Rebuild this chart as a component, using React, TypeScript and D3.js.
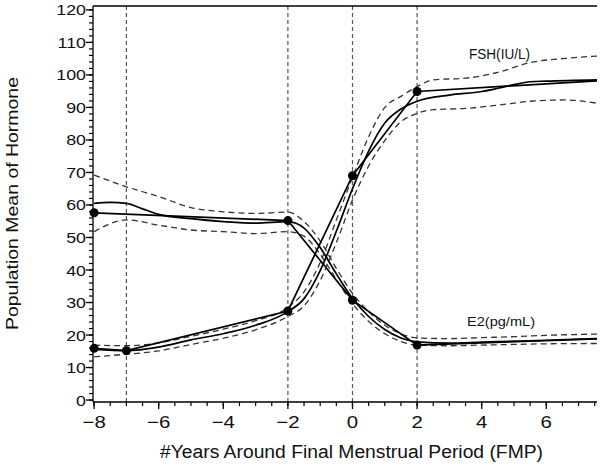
import React from "react";
import * as d3 from "d3";

// ---- data ----
const xTicks = [-8, -6, -4, -2, 0, 2, 4, 6];
const yTicks = [0, 10, 20, 30, 40, 50, 60, 70, 80, 90, 100, 110, 120];
const refLines = [-7, -2, 0, 2];

// FSH (IU/L)
const fshPtsX = [-8, -7, -2, 0, 2];
const fshPtsY = [15.9, 15.2, 27.4, 69.0, 94.9];
const fshLinX = [-8, -7, -2, 0, 2, 7.57];
const fshLinY = [15.9, 15.2, 27.4, 69.0, 94.9, 98.2];
const fshSmX = [-8, -7, -6, -5, -4, -3, -2, -1.5, -1, -0.5, 0, 0.5, 1, 1.5, 2, 3, 4, 4.5, 5, 5.5, 6, 7.57];
const fshSmY = [15.6, 15.2, 16.3, 18.5, 20.4, 23.0, 27.2, 31.2, 39.8, 51.9, 65.0, 76.6, 85.2, 89.5, 91.9, 93.8, 94.9, 95.9, 97.0, 97.9, 98.1, 98.5];
const fshCiX = [-8, -7, -6, -5, -4, -3, -2, -1.5, -1, -0.5, 0, 0.5, 1, 1.5, 2, 2.5, 3.5, 4.5, 5.5, 6.6, 7.57];
const fshUpY = [16.9, 16.7, 17.6, 19.6, 21.8, 24.4, 28.5, 33.3, 42.3, 55.4, 68.5, 81.0, 90.0, 93.4, 96.4, 98.5, 99.0, 100.8, 103.8, 105.1, 105.8];
const fshLoY = [13.3, 14.1, 15.1, 17.1, 19.0, 21.6, 25.7, 29.0, 36.8, 48.4, 61.5, 72.0, 79.8, 85.6, 88.2, 89.3, 89.7, 90.7, 91.9, 92.3, 91.3];

// E2 (pg/mL)
const e2PtsX = [-8, -2, 0, 2];
const e2PtsY = [57.6, 55.2, 30.7, 16.9];
const e2LinX = [-8, -2, 0, 2, 7.57];
const e2LinY = [57.6, 55.2, 30.7, 16.9, 18.8];
const e2SmX = [-8, -7.5, -7, -6.5, -6, -5, -4, -3, -2, -1.5, -1, -0.5, 0, 0.5, 1, 1.5, 2, 3, 4, 5, 6, 7.57];
const e2SmY = [60.5, 60.8, 60.5, 58.8, 57.1, 55.8, 54.9, 54.4, 54.9, 52.9, 46.9, 38.8, 31.2, 25.7, 21.7, 19.1, 17.9, 17.5, 17.8, 18.1, 18.4, 18.9];
const e2CiX = [-8, -7, -6, -5, -4, -3, -2, -1.5, -1, -0.5, 0, 0.5, 1, 1.5, 2, 3, 4, 5, 6, 7.57];
const e2UpY = [69.2, 65.6, 62.6, 59.2, 57.9, 57.4, 57.8, 54.9, 48.9, 40.5, 32.8, 27.2, 23.0, 20.4, 19.1, 18.9, 19.2, 19.5, 19.9, 20.3];
const e2LoY = [51.8, 55.4, 53.8, 52.3, 51.8, 51.2, 51.8, 50.4, 44.8, 37.1, 29.7, 24.2, 20.4, 18.0, 16.9, 16.7, 16.9, 17.1, 17.3, 17.4];

const FONT = "'Liberation Sans', Arial, Helvetica, sans-serif";

export default function App() {
  const left = 93, right = 597, top = 6, bottom = 402;
  const x = d3.scaleLinear().domain([-8.034, 7.57]).range([left, right]);
  const y = d3.scaleLinear().domain([-0.6, 121.2]).range([bottom, top]);

  const zip = (xs: number[], ys: number[]) => xs.map((v, i) => [v, ys[i]] as [number, number]);
  const lin = d3.line<[number, number]>().x(d => x(d[0])).y(d => y(d[1]));
  const smooth = d3.line<[number, number]>().x(d => x(d[0])).y(d => y(d[1])).curve(d3.curveMonotoneX);

  const xMinor = d3.range(-8, 7.6, 0.5);
  const yMinor = d3.range(0, 121, 2);

  const solid = { fill: "none", stroke: "#000", strokeWidth: 1.7 };
  const dashed = { fill: "none", stroke: "#333", strokeWidth: 1.3, strokeDasharray: "6 4" };

  return (
    <svg width={600} height={468} style={{ position: "absolute", left: 0, top: 0, background: "#fff" }} fontFamily={FONT}>
      <rect x={0} y={0} width={600} height={468} fill="#fff" />
      {refLines.map(v => (
        <line key={"r" + v} x1={x(v)} x2={x(v)} y1={top} y2={bottom} stroke="#555" strokeWidth={1.2} strokeDasharray="4 3" />
      ))}
      <line x1={left} x2={right} y1={top} y2={top} stroke="#000" strokeWidth={1.3} />
      <line x1={left} x2={left} y1={top} y2={bottom} stroke="#000" strokeWidth={1.3} />
      <line x1={left} x2={right} y1={bottom} y2={bottom} stroke="#000" strokeWidth={1.3} />

      {yMinor.map(v => (
        <line key={"ym" + v} x1={left - 4} x2={left} y1={y(v)} y2={y(v)} stroke="#000" strokeWidth={1.2} />
      ))}
      {yTicks.map(v => (
        <g key={"yt" + v}>
          <line x1={left - 7} x2={left} y1={y(v)} y2={y(v)} stroke="#000" strokeWidth={1.3} />
          <text x={0} y={0} transform={`translate(86,${y(v) + 5.5}) scale(1.15,1)`} textAnchor="end" fontSize={15.5} fill="#111">{v}</text>
        </g>
      ))}
      {xMinor.map(v => (
        <line key={"xm" + v} x1={x(v)} x2={x(v)} y1={bottom} y2={bottom + 4} stroke="#000" strokeWidth={1.2} />
      ))}
      {xTicks.map(v => (
        <g key={"xt" + v}>
          <line x1={x(v)} x2={x(v)} y1={bottom} y2={bottom + 7} stroke="#000" strokeWidth={1.3} />
          <text x={0} y={0} transform={`translate(${x(v)},428) scale(1.2,1)`} textAnchor="middle" fontSize={17} fill="#111">
            {v < 0 ? "\u2212" + Math.abs(v) : String(v)}
          </text>
        </g>
      ))}

      <text x={160} y={458} fontSize={18} textLength={383} lengthAdjust="spacingAndGlyphs" fill="#111">#Years Around Final Menstrual Period (FMP)</text>
      <text transform="translate(17.5,330) rotate(-90)" x={0} y={0} fontSize={17} textLength={253} lengthAdjust="spacingAndGlyphs" fill="#111">Population Mean of Hormone</text>

      <path d={smooth(zip(e2CiX, e2UpY)) || ""} {...dashed} />
      <path d={smooth(zip(e2CiX, e2LoY)) || ""} {...dashed} />
      <path d={smooth(zip(e2SmX, e2SmY)) || ""} {...solid} />
      <path d={lin(zip(e2LinX, e2LinY)) || ""} {...solid} />

      <path d={smooth(zip(fshCiX, fshUpY)) || ""} {...dashed} />
      <path d={smooth(zip(fshCiX, fshLoY)) || ""} {...dashed} />
      <path d={smooth(zip(fshSmX, fshSmY)) || ""} {...solid} />
      <path d={lin(zip(fshLinX, fshLinY)) || ""} {...solid} />

      {zip(e2PtsX, e2PtsY).map((d, i) => (
        <circle key={"e" + i} cx={x(d[0])} cy={y(d[1])} r={4.5} fill="#000" />
      ))}
      {zip(fshPtsX, fshPtsY).map((d, i) => (
        <circle key={"f" + i} cx={x(d[0])} cy={y(d[1])} r={4.5} fill="#000" />
      ))}

      <text x={469} y={59} fontSize={14} textLength={61} lengthAdjust="spacingAndGlyphs" fill="#111">FSH(IU/L)</text>
      <text x={467} y={326} fontSize={13.5} textLength={68} lengthAdjust="spacingAndGlyphs" fill="#111">E2(pg/mL)</text>
    </svg>
  );
}
